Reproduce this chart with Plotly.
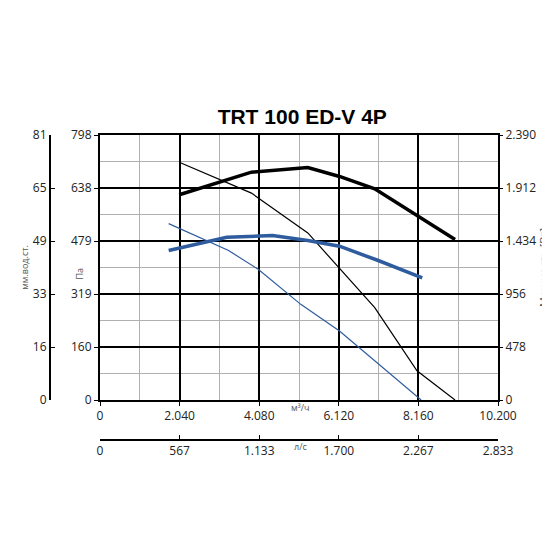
import plotly.graph_objects as go

# pressure curves (Pa) and power curves (W) against airflow (m3/h)
p_hi_x = [2031, 3881, 5326, 6138, 7041, 8124, 9099]
p_hi_y = [716, 623, 503, 398, 278, 88, 0]
w_hi_x = [2031, 3881, 5326, 6138, 7041, 8169, 9099]
w_hi_y = [1851, 2055, 2097, 2016, 1905, 1656, 1447]
p_lo_x = [1760, 3296, 4062, 5145, 6138, 8169, 8230]
p_lo_y = [531, 450, 393, 288, 208, 8, 0]
w_lo_x = [1760, 3250, 4423, 5326, 6138, 7131, 8259]
w_lo_y = [1348, 1468, 1483, 1438, 1387, 1258, 1102]

pa_ticks = [0, 159.6, 319.2, 478.8, 638.4, 798]
pa_text = ["0", "160", "319", "479", "638", "798"]
w_ticks = [0, 478, 956, 1434, 1912, 2390]
w_text = ["0", "478", "956", "1.434", "1.912", "2.390"]
mm_ticks = [0, 16.2, 32.4, 48.6, 64.8, 81]
mm_text = ["0", "16", "33", "49", "65", "81"]
q_ticks = [0, 2040, 4080, 6120, 8160, 10200]
q_text = ["0", "2.040", "4.080", "6.120", "8.160", "10.200"]
ls_ticks = [0, 566.7, 1133.3, 1700, 2266.7, 2833.3]
ls_text = ["0", "567", "1.133", "1.700", "2.267", "2.833"]

fnt = dict(family="Open Sans, Arial", size=12, color="#222")
blue = "#2f5c9e"

fig = go.Figure()
fig.add_trace(go.Scatter(x=p_hi_x, y=p_hi_y, mode="lines", line=dict(color="black", width=1.2)))
fig.add_trace(go.Scatter(x=p_lo_x, y=p_lo_y, mode="lines", line=dict(color=blue, width=1.2)))
fig.add_trace(go.Scatter(x=w_hi_x, y=w_hi_y, yaxis="y2", mode="lines", line=dict(color="black", width=3.5)))
fig.add_trace(go.Scatter(x=w_lo_x, y=w_lo_y, yaxis="y2", mode="lines", line=dict(color=blue, width=3.5)))
# invisible traces to show the extra axes
fig.add_trace(go.Scatter(x=[None], y=[None], yaxis="y3", showlegend=False))
fig.add_trace(go.Scatter(x=[None], y=[None], xaxis="x2", showlegend=False))

fig.update_layout(
    width=550, height=550,
    margin=dict(l=0, r=60, t=90, b=100, autoexpand=False),
    paper_bgcolor="white", plot_bgcolor="white",
    showlegend=False,
    separators=",.",
    title=dict(text="<b>TRT 100 ED-V 4P</b>", x=0.535, xanchor="center", y=0.815,
               font=dict(family="Arial", size=21, color="black")),
    xaxis=dict(domain=[92 / 490, 1], range=[0, 10200], tickvals=q_ticks, ticktext=q_text,
               automargin=False,
               showgrid=True, gridcolor="black", gridwidth=1.5,
               minor=dict(dtick=1020, tick0=0, showgrid=True, gridcolor="#b0b0b0", gridwidth=1.3),
               showline=True, linecolor="black", linewidth=2, mirror=True,
               ticks="outside", ticklen=4, tickcolor="black", zeroline=False, tickfont=fnt),
    yaxis=dict(domain=[(450 - 392) / 360, (450 - 127) / 360], range=[0, 798],
               tickvals=pa_ticks, ticktext=pa_text, automargin=False,
               showgrid=True, gridcolor="black", gridwidth=1.5,
               minor=dict(dtick=79.8, tick0=0, showgrid=True, gridcolor="#b0b0b0", gridwidth=1.3),
               showline=True, linecolor="black", linewidth=2, mirror=True,
               ticks="outside", ticklen=4, tickcolor="black", zeroline=False, tickfont=fnt),
    yaxis2=dict(overlaying="y", side="right", range=[0, 2390], tickvals=w_ticks, ticktext=w_text,
                automargin=False,
                showgrid=False, zeroline=False, ticks="outside", ticklen=4, tickcolor="black",
                tickfont=fnt, title=dict(text="Мощность [Вт]", font=dict(size=11, color="#555"), standoff=2)),
    yaxis3=dict(overlaying="y", anchor="free", position=42 / 490, side="left", range=[0, 81],
                automargin=False,
                tickvals=mm_ticks, ticktext=mm_text, showgrid=False, zeroline=False,
                showline=True, linecolor="black", linewidth=2, ticks="inside", ticklen=4,
                tickcolor="black", tickfont=fnt,
                title=dict(text="мм.вод.ст.", font=dict(size=9, color="#555"), standoff=2)),
    xaxis2=dict(overlaying="x", anchor="free", position=(450 - 432) / 360, side="bottom",
                automargin=False,
                range=[0, 2833.3], tickvals=ls_ticks, ticktext=ls_text, showgrid=False,
                zeroline=False, showline=True, linecolor="black", linewidth=2,
                ticks="inside", ticklen=4, tickcolor="black", tickfont=fnt),
)

fig.add_annotation(text="м³/ч", xref="paper", yref="paper", x=292 / 490,
                   y=(450 - 408) / 360, showarrow=False, font=dict(size=9, color="#555"))
fig.add_annotation(text="л/с", xref="paper", yref="paper", x=292 / 490,
                   y=(450 - 447) / 360, showarrow=False, font=dict(size=9, color="#555"))
fig.add_annotation(text="Па", xref="paper", yref="paper", x=62 / 490, y=(450 - 266) / 360,
                   showarrow=False, textangle=-90, font=dict(size=9, color="#555"))

fig.write_html("out.html")
